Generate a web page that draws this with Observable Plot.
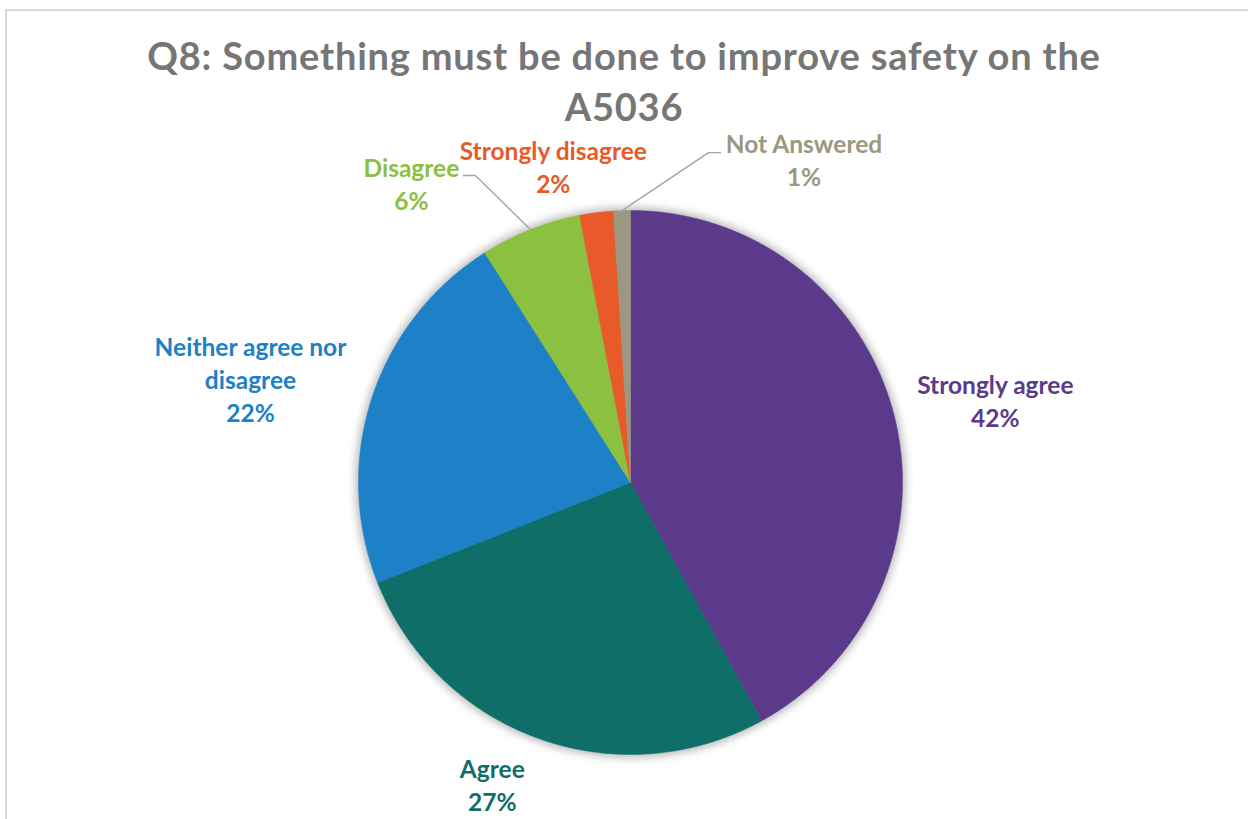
<!DOCTYPE html>
<html>
<head>
<meta charset="utf-8">
<script src="https://cdn.jsdelivr.net/npm/d3@7"></script>
<script src="https://cdn.jsdelivr.net/npm/@observablehq/plot@0.6"></script>
<style>
  html, body { margin: 0; padding: 0; background: #fff; }
  #wrap { position: relative; width: 1248px; height: 819px; overflow: hidden; background: #fff; }
  #frame { position: absolute; left: 5px; top: 9px; right: -4px; bottom: -4px; border-top: 2px solid #d9d9d9; border-left: 2px solid #d9d9d9; pointer-events: none; }
  #title { position: relative; height: 128px; box-sizing: border-box; padding-top: 30px; text-align: center;
           font-family: Lato, "Open Sans", sans-serif; font-weight: bold; font-size: 38px; letter-spacing: 0.8px; line-height: 51px; color: #767676; }
  #chart { position: relative; }
</style>
</head>
<body>
<div id="wrap">
  <div id="frame"></div>
  <div id="title">Q8: Something must be done to improve safety on the<br>A5036</div>
  <div id="chart"></div>
</div>
<script>
// ---- data ----
const categories = ["Strongly agree", "Agree", "Neither agree nor disagree", "Disagree", "Strongly disagree", "Not Answered"];
const shares = [42, 27, 22, 6, 2, 1];
const labelTexts = ["Strongly agree", "Agree", "Neither agree nor\ndisagree", "Disagree", "Strongly disagree", "Not Answered"];
const sliceColors = ["#5b3a8b", "#0f6e68", "#1c81c6", "#8cc040", "#e85a2a", "#9b9781"];

// ---- layout (polar placement of labels, degrees clockwise from 12 o'clock, distance in px) ----
const labelPolar = {
  "Strongly agree": [77.3, 374],
  "Agree": [204.6, 332],
  "Neither agree nor disagree": [285.3, 394],
  "Disagree": [323.8, 371],
  "Strongly disagree": [346.3, 326],
  "Not Answered": [28.2, 367]
};
// leader lines: elbow (polar) and horizontal run toward the label
const leaders = {
  "Disagree": {elbow: [333.2, 344], run: -12},
  "Not Answered": {elbow: [13.3, 339], run: 12}
};

const W = 1248, H = 691;
const cx = 630, cy = 354, R = 272;
const px = (a, r) => cx + r * Math.sin(a);
const py = (a, r) => cy - r * Math.cos(a);
const rad = d => d * Math.PI / 180;

const rows = categories.map((c, i) => ({cat: c, share: shares[i], label: labelTexts[i], color: sliceColors[i]}));
const arcs = d3.pie().sort(null).value(d => d.share)(rows);

const sliceMarks = arcs.map(a => {
  const pts = [{x: cx, y: cy}];
  const n = Math.max(2, Math.ceil((a.endAngle - a.startAngle) / rad(0.4)));
  for (let k = 0; k <= n; k++) {
    const t = a.startAngle + (a.endAngle - a.startAngle) * k / n;
    pts.push({x: px(t, R), y: py(t, R)});
  }
  pts.push({x: cx, y: cy});
  return Plot.line(pts, {x: "x", y: "y", fill: a.data.color, stroke: a.data.color, strokeWidth: 0.5, curve: "linear"});
});

const labelRows = arcs.map(a => {
  const [ang, dist] = labelPolar[a.data.cat];
  return {x: px(rad(ang), dist), y: py(rad(ang), dist), text: a.data.label + "\n" + a.data.share + "%", color: a.data.color};
});

const leaderPts = [];
arcs.forEach(a => {
  const L = leaders[a.data.cat];
  if (!L) return;
  const mid = (a.startAngle + a.endAngle) / 2;
  const ex = px(rad(L.elbow[0]), L.elbow[1]), ey = py(rad(L.elbow[0]), L.elbow[1]);
  leaderPts.push({z: a.data.cat, x: px(mid, R), y: py(mid, R)});
  leaderPts.push({z: a.data.cat, x: ex, y: ey});
  leaderPts.push({z: a.data.cat, x: ex + L.run, y: ey});
});

const chart = Plot.plot({
  width: W, height: H, margin: 0,
  x: {type: "identity", axis: null},
  y: {type: "identity", axis: null},
  style: {background: "transparent", overflow: "visible"},
  marks: [
    Plot.dot([{x: cx, y: cy}], {x: "x", y: "y", r: R + 3, fill: "#000", fillOpacity: 0.28, stroke: "none"}),
    ...sliceMarks,
    Plot.line(leaderPts, {x: "x", y: "y", z: "z", stroke: "#a5a5a5", strokeWidth: 1.4}),
    Plot.text(labelRows, {x: "x", y: "y", text: "text", fill: "color", fontSize: 24.5, fontWeight: "bold",
      fontFamily: "Lato, 'Open Sans', sans-serif", lineHeight: 1.35, textAnchor: "middle", lineAnchor: "middle"})
  ]
});
const dotG = chart.querySelector('g[aria-label="dot"]');
if (dotG) dotG.style.filter = "blur(4px)";
document.getElementById("chart").appendChild(chart);
</script>
</body>
</html>
